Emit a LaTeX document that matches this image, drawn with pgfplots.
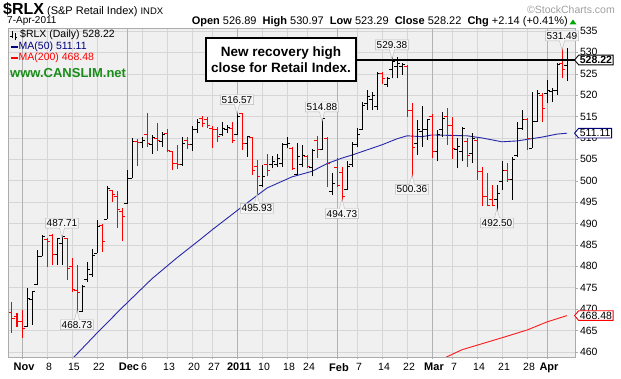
\documentclass[border=0pt]{standalone}
\usepackage{pgfplots}
\pgfplotsset{compat=1.18}
\usepackage{pgfplotstable}
\usepackage{fontspec}
\setmainfont{Liberation Sans}
\usetikzlibrary{shapes.callouts,shapes.symbols}
\definecolor{plotbg}{RGB}{240,240,240}
\definecolor{gridc}{RGB}{214,214,214}
\definecolor{monthc}{RGB}{178,178,178}
\definecolor{barred}{RGB}{255,0,0}
\definecolor{mablue}{RGB}{40,40,170}
\definecolor{mared}{RGB}{255,25,25}
\definecolor{csgreen}{RGB}{25,140,25}
\definecolor{navytxt}{RGB}{0,0,128}
\pgfdeclareplotmark{otick}{\pgfpathmoveto{\pgfqpoint{-2.6pt}{0pt}}\pgfpathlineto{\pgfqpoint{0pt}{0pt}}\pgfusepathqstroke}
\pgfdeclareplotmark{ctick}{\pgfpathmoveto{\pgfqpoint{0pt}{0pt}}\pgfpathlineto{\pgfqpoint{2.6pt}{0pt}}\pgfusepathqstroke}
\pgfdeclareplotmark{nothing}{}

\pgfplotstableread{
i O H L C
1 465.9 474.9 465.9 472.5
2 472.2 474.3 466.3 474.0
3 475.7 483.8 475.7 482.4
4 482.3 487.4 482.3 486.9
7 482.7 486.6 480.3 486.4
8 485.4 487.71 480.3 486.9
12 469.4 475.7 469.4 475.3
13 476.8 481.1 476.4 479.2
14 478.0 484.0 477.5 482.5
15 483.1 490.8 483.1 489.3
17 491.0 498.8 491.0 498.2
21 494.6 502.5 494.6 500.5
22 500.6 509.9 500.6 509.1
24 508.9 510.3 507.6 509.3
26 508.4 510.7 506.3 510.2
28 509.1 511.5 508.0 510.9
32 503.7 510.3 503.5 508.8
34 508.4 512.8 507.0 511.9
35 511.9 514.4 511.1 513.6
40 510.7 513.8 510.5 512.3
41 512.0 513.0 511.1 512.4
43 510.7 516.57 510.7 515.1
45 508.8 510.5 505.6 510.3
48 499.0 503.7 498.6 501.1
50 503.7 505.8 502.9 504.5
51 503.7 506.3 503.2 505.3
52 504.1 508.8 503.3 508.4
53 508.4 510.2 507.6 508.8
55 501.4 508.8 501.4 505.6
56 503.7 508.4 503.3 506.0
58 503.0 507.5 501.0 507.0
60 507.2 514.88 507.2 514.5
62 497.5 501.8 496.7 499.4
65 497.9 504.5 497.9 503.3
66 503.7 509.1 503.3 508.4
67 508.4 512.3 508.0 510.7
68 511.9 518.5 511.9 517.7
69 518.1 521.2 516.5 519.6
70 518.9 520.8 516.5 520.0
71 517.3 525.5 516.5 525.1
73 522.4 524.3 522.0 523.9
74 525.9 529.38 523.9 527.8
75 526.7 529.0 523.9 527.5
76 526.7 527.5 524.7 527.1
79 508.8 514.2 506.0 511.9
80 511.5 517.5 508.0 511.9
81 511.9 514.4 509.5 514.2
83 506.8 511.9 504.5 510.7
84 511.9 516.1 510.3 514.6
87 507.2 509.9 502.9 508.0
88 506.8 512.6 504.5 512.3
90 506.4 511.1 504.1 509.9
95 495.5 499.0 492.50 496.9
96 499.8 504.5 497.9 502.5
98 500.2 505.6 495.5 504.9
99 506.0 513.8 505.6 512.3
100 512.3 516.5 511.9 514.2
102 507.6 520.8 507.6 513.8
103 513.8 521.2 513.8 520.4
105 520.4 523.6 518.1 521.2
106 520.8 521.6 518.5 521.2
107 521.2 527.5 520.0 527.1
109 526.89 530.97 523.29 528.22
}\blackbars

\pgfplotstableread{
i O H L C
-2 469.1 471.7 464.4 467.9
-1 468.2 469.0 465.9 467.0
0 467.1 469.8 463.2 465.5
5 486.2 486.6 479.9 485.8
6 487.3 487.5 480.3 482.8
9 486.4 486.6 476.8 479.6
10 479.9 481.9 474.1 474.5
11 474.3 480.3 468.73 473.8
16 489.6 489.9 483.4 485.7
18 497.6 497.9 495.1 496.7
19 496.3 497.5 488.9 493.2
20 492.8 493.6 485.8 491.6
23 509.1 509.7 503.5 508.9
25 510.7 515.9 508.0 508.6
27 509.9 513.4 507.0 509.5
29 511.1 512.0 506.6 507.0
30 506.8 507.0 502.4 504.1
31 504.1 508.4 502.7 503.7
33 509.5 510.2 507.4 508.4
36 514.6 515.2 512.5 513.3
37 514.2 515.0 512.3 513.0
38 512.3 512.8 507.6 511.9
39 511.9 512.6 509.1 510.3
42 512.3 513.8 508.8 509.5
44 515.6 515.8 507.2 508.8
46 510.2 510.3 501.4 502.5
47 503.3 504.9 495.93 501.0
49 503.7 506.3 501.0 502.5
54 507.6 508.0 502.5 502.9
57 505.6 506.0 502.9 503.3
59 509.5 510.5 505.3 507.2
61 509.9 510.2 498.6 504.1
63 503.0 505.3 498.6 499.0
64 502.0 503.3 494.73 496.2
72 525.0 525.3 522.5 524.0
77 526.8 527.0 515.0 516.5
78 516.5 518.2 500.36 507.8
82 515.0 515.6 505.3 506.8
85 515.1 516.9 508.4 513.0
86 513.0 515.0 505.0 507.6
89 509.1 509.9 503.3 506.0
91 509.5 509.9 500.2 502.1
92 502.1 503.3 494.0 496.3
93 496.4 501.8 494.0 494.3
94 495.5 499.0 494.0 494.1
97 502.5 504.1 499.8 500.2
101 514.4 514.6 507.2 509.9
104 520.0 520.4 513.8 516.9
108 527.5 531.49 523.9 526.08
}\redbars

\pgfplotstableread{
i v
10 458.3
15 464.4
20 470.3
26 477.1
31 482.0
36 486.6
38 488.5
44 493.9
49 498.3
54 500.9
58 502.2
61 504.0
64 505.3
66 506.0
69 507.2
72 508.4
75 509.8
77 510.5
80 510.3
82 510.7
89 510.5
92 510.0
96 509.1
99 509.3
104 510.2
107 510.9
109 511.11
}\mafifty

\pgfplotstableread{
i v
84 458.3
88 460.5
96 463.3
101 465.1
105 467.0
109 468.48
}\matwohundred

\begin{document}
\begin{tikzpicture}[x=1pt,y=1pt,
  pbox/.style={rectangle callout, draw=gray!55, fill=white!92!gray, inner sep=1.3pt,
    text height=7.3pt, text depth=0pt, font=\fontsize{10}{10}\selectfont, callout pointer width=5pt},
  vbox/.style={signal, signal to=west, signal pointer angle=100, fill=white, inner sep=1.2pt,
    line width=0.9pt, anchor=west, text height=7.3pt, text depth=0pt}]
\useasboundingbox (0,0) rectangle (621,379);
\begin{axis}[
  at={(8pt,22pt)}, anchor=south west,
  scale only axis, width=567pt, height=329pt,
  xmin=-2.8, xmax=110.6, ymin=458.8, ymax=535.7,
  axis background/.style={fill=plotbg},
  axis line style={gray!65, line width=0.6pt},
  clip mode=individual,
  xtick={5,10,15,24,29,34,38,48,53,57,67,72,77,86,91,96,101},
  xticklabels={8,15,22,6,13,20,27,10,18,24,7,14,22,7,14,21,28},
  extra x ticks={0,21,43,63,82,105},
  extra x tick labels={Nov,Dec,2011,Feb,Mar,Apr},
  extra x tick style={grid=major, major grid style={monthc, line width=0.8pt},
     xticklabel style={font=\bfseries\fontsize{11}{11}\selectfont}},
  ytick={460,465,...,535},
  grid=major, major grid style={gridc, line width=0.5pt},
  xtick pos=left, ytick pos=right, yticklabel pos=right,
  tick align=outside, major tick length=2.5pt, tick style={gray!65},
  xticklabel style={font=\fontsize{10.5}{10.5}\selectfont, xshift=2pt},
  yticklabel style={font=\fontsize{10.5}{10.5}\selectfont, xshift=-1pt},
  /pgf/number format/assume math mode=true,
]
% MAs
\addplot[mablue, line width=0.9pt, mark=none] table[x=i,y=v]{\mafifty};
\addplot[mared, line width=0.9pt, mark=none] table[x=i,y=v]{\matwohundred};
% black bars
\addplot[only marks, mark=nothing, black, error bars/.cd, y dir=plus, y explicit, error mark=none,
  error bar style={black, line width=1pt}] table[x=i, y=L, y error plus expr=\thisrow{H}-\thisrow{L}]{\blackbars};
\addplot[only marks, mark=otick, black, mark options={line width=1pt}] table[x=i,y=O]{\blackbars};
\addplot[only marks, mark=ctick, black, mark options={line width=1pt}] table[x=i,y=C]{\blackbars};
% red bars
\addplot[only marks, mark=nothing, barred, error bars/.cd, y dir=plus, y explicit, error mark=none,
  error bar style={barred, line width=1pt}] table[x=i, y=L, y error plus expr=\thisrow{H}-\thisrow{L}]{\redbars};
\addplot[only marks, mark=otick, barred, mark options={line width=1pt}] table[x=i,y=O]{\redbars};
\addplot[only marks, mark=ctick, barred, mark options={line width=1pt}] table[x=i,y=C]{\redbars};
% recovery-high line
\addplot[black, line width=2.3pt, mark=none] coordinates {(66,528.22) (110.6,528.22)};
% price callouts
\node[pbox, anchor=south, yshift=5pt, callout relative pointer={(canvas cs:x=0pt,y=-9.5pt)}] at (axis cs:8,487.71) {487.71};
\node[pbox, anchor=south, yshift=5pt, callout relative pointer={(canvas cs:x=0pt,y=-9.5pt)}] at (axis cs:43,516.57) {516.57};
\node[pbox, anchor=south, yshift=5pt, callout relative pointer={(canvas cs:x=0pt,y=-9.5pt)}] at (axis cs:60,514.88) {514.88};
\node[pbox, anchor=south, yshift=5pt, callout relative pointer={(canvas cs:x=0pt,y=-9.5pt)}] at (axis cs:74,529.38) {529.38};
\node[pbox, anchor=south, yshift=5pt, callout relative pointer={(canvas cs:x=0pt,y=-9.5pt)}] at (axis cs:108,531.49) {531.49};
\node[pbox, anchor=north, yshift=-5pt, callout relative pointer={(canvas cs:x=0pt,y=9.5pt)}] at (axis cs:11,468.73) {468.73};
\node[pbox, anchor=north, yshift=-5pt, callout relative pointer={(canvas cs:x=0pt,y=9.5pt)}] at (axis cs:47,495.93) {495.93};
\node[pbox, anchor=north, yshift=-5pt, callout relative pointer={(canvas cs:x=0pt,y=9.5pt)}] at (axis cs:64,494.73) {494.73};
\node[pbox, anchor=north, yshift=-5pt, callout relative pointer={(canvas cs:x=0pt,y=9.5pt)}] at (axis cs:78,500.36) {500.36};
\node[pbox, anchor=north, yshift=-5pt, callout relative pointer={(canvas cs:x=0pt,y=9.5pt)}] at (axis cs:95,492.50) {492.50};
\end{axis}
% value boxes on the right
\node[vbox, draw=black, font=\bfseries\fontsize{10.5}{10.5}\selectfont] at (574,319.0) {528.22};
\node[vbox, draw=navytxt, font=\fontsize{10.5}{10.5}\selectfont] at (574,245.8) {511.11};
\node[vbox, draw=red, font=\fontsize{10.5}{10.5}\selectfont] at (574,63.4) {468.48};
% header
\node[anchor=west, inner sep=0pt] at (3,369) {{\fontsize{16}{16}\selectfont\bfseries \$RLX}\hspace{3pt}{\fontsize{11}{11}\selectfont (S\&P Retail Index)}\hspace{3pt}{\fontsize{9.5}{9.5}\selectfont INDX}};
\node[anchor=east, inner sep=0pt, text=gray!75, font=\fontsize{10.5}{10.5}\selectfont] at (615,369) {©StockCharts.com};
\node[anchor=west, inner sep=0pt, font=\fontsize{10}{10}\selectfont] at (7,357.5) {7-Apr-2011};
\node[anchor=east, inner sep=0pt, font=\fontsize{11}{11}\selectfont] at (568,357.5) {\textbf{Open} 526.89 \ \textbf{High} 530.97 \ \textbf{Low} 523.29 \ \textbf{Close} 528.22 \ \textbf{Chg} +2.14 (+0.41\%)};
\fill[green!65!black] (569.5,354.5) -- (576.5,354.5) -- (573,359.5) -- cycle;
% in-plot legend
\draw[black, line width=0.6pt] (12,340.5)--(12,347.5) (10.3,343)--(12,343) (15,339)--(15,346) (15,342)--(16.7,342);
\node[anchor=west, inner sep=0pt, font=\fontsize{10.5}{10.5}\selectfont] at (20,344) {\$RLX (Daily) 528.22};
\draw[navytxt, line width=1.6pt] (11,332)--(18,332);
\node[anchor=west, inner sep=0pt, text=navytxt, font=\fontsize{10.5}{10.5}\selectfont] at (18.5,332) {MA(50) 511.11};
\draw[red, line width=1.6pt] (11,321)--(18,321);
\node[anchor=west, inner sep=0pt, text=red, font=\fontsize{10.5}{10.5}\selectfont] at (18.5,321) {MA(200) 468.48};
\node[anchor=west, inner sep=0pt, text=csgreen, font=\bfseries\fontsize{13}{13}\selectfont] at (10,306) {www.CANSLIM.net};
% annotation box
\node[draw=black, line width=1.8pt, fill=white, minimum width=150pt, minimum height=43pt, align=center,
  font=\bfseries\fontsize{13.5}{16}\selectfont] at (281,319.5) {New recovery high\\close for Retail Index.};
\end{tikzpicture}
\end{document}
